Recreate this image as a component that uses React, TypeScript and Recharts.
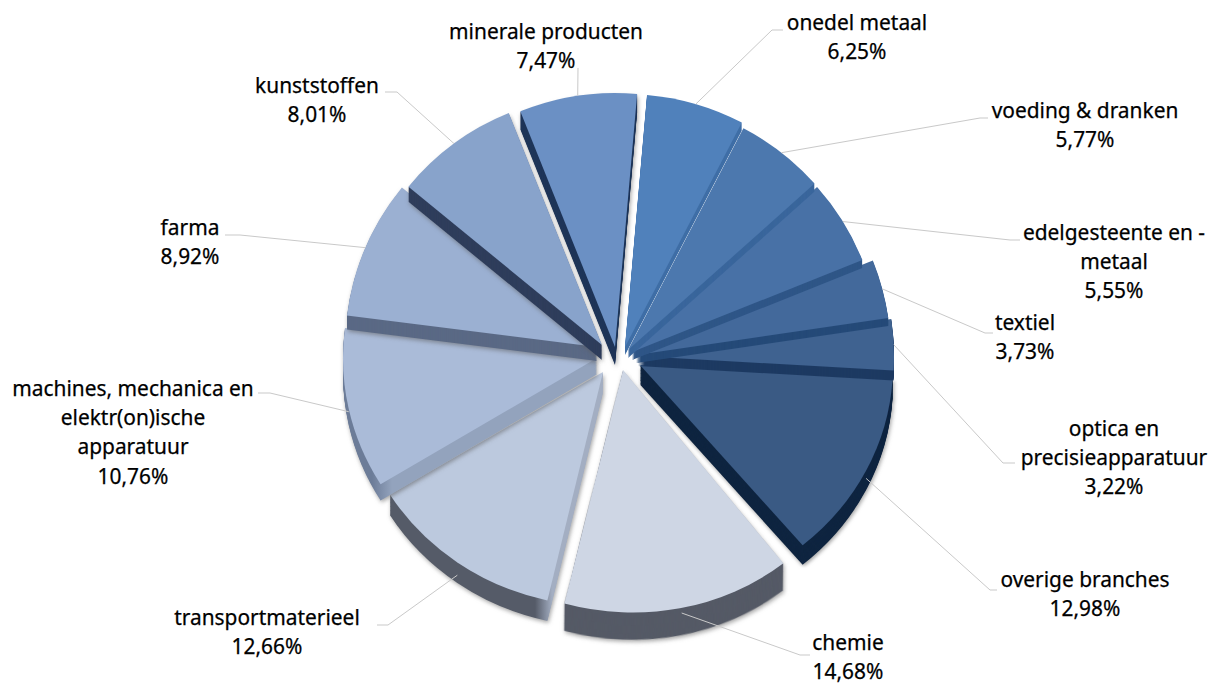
import React from 'react';
import { PieChart, Pie, Sector } from 'recharts';

const categories = ['onedel metaal', 'voeding & dranken', 'edelgesteente en - metaal', 'textiel', 'optica en precisieapparatuur', 'overige branches', 'chemie', 'transportmaterieel', 'machines, mechanica en elektr(on)ische apparatuur', 'farma', 'kunststoffen', 'minerale producten'];
const shares = [6.25, 5.77, 5.55, 3.73, 3.22, 12.98, 14.68, 12.66, 10.76, 8.92, 8.01, 7.47];
const labelLines = [['onedel metaal'], ['voeding & dranken'], ['edelgesteente en -', 'metaal'], ['textiel'], ['optica en', 'precisieapparatuur'], ['overige branches'], ['chemie'], ['transportmaterieel'], ['machines, mechanica en', 'elektr(on)ische', 'apparatuur'], ['farma'], ['kunststoffen'], ['minerale producten']];
const topColors = ['#5081bb', '#4c78ae', '#4871a6', '#43699b', '#3f6290', '#3a5a84', '#ced6e4', '#bcc9de', '#aabbd8', '#9bb0d2', '#88a3cb', '#6b90c4'];
const sideColors = ['#3f6ea6', '#3a669c', '#2f5687', '#254a78', '#1d3a62', '#0f2540', '#555a66', 'url(#transportSide)', 'url(#machinesSide)', '#5a6985', '#2f3e5c', '#1f3558'];

// Drawing layout, separate from the data: offset of each exploded slice from the pie centre, radius, depth, and a perspective matrix [a, b, c, d].
const CX = 620;
const CY = 358;
const explode: [number, number, number, number, number[]][] = [
  [5, -11, 253, 8, [1, 0, 0, 1]],
  [8, -8, 250, 8, [1, 0, 0, 1]],
  [12, -6, 248, 8, [1, 0, 0, 1]],
  [16, -3, 255, 8, [1, 0, 0, 1]],
  [18, -2, 256, 10, [1, 0, 0, 1]],
  [20, 7, 253, 21, [1, 0, 0, 0.93]],
  [3, 12, 250, 28, [1.01, 0.048, -0.01, 0.969]],
  [-17, 14, 250, 22, [1, 0, 0, 0.937]],
  [-23, 0, 254, 17, [1, 0, 0, 0.95]],
  [-23, -11, 252, 14, [1, 0, 0, 1]],
  [-18, -13, 250, 15, [1, 0, 0, 1]],
  [-5, -11, 254, 18, [1, 0, 0, 1]],
];
// Slices are painted bottom to top so each side wall overlaps the slice below it.
const paintOrder = [6, 5, 7, 4, 8, 3, 9, 2, 10, 1, 11, 0];
// [elbow x, elbow y, end x, text centre x, first line centre y]
const labelLayout = [[772, 30, 783, 857, 22], [980, 118, 988, 1085, 110], [1010, 240, 1020, 1114, 232], [985, 333, 993, 1025, 322], [1003, 463, 1015, 1114, 428], [990, 590, 997, 1085, 579], [800, 655, 810, 848, 642], [388, 625, 377, 267, 617], [270, 393, 258, 133, 388], [240, 235, 225, 190, 227], [397, 92, 385, 317, 85], [578, 68, 578, 546, 31]];

const data = categories.map((name, i) => ({ name, value: shares[i], idx: i }));

const RAD = Math.PI / 180;

function Slice(props: any) {
  const i = props.payload?.idx ?? props.idx;
  const [dx, dy, r, depth, m] = explode[i];
  const ax = props.cx + dx;
  const ay = props.cy + dy;
  const common = { innerRadius: 0, outerRadius: r, startAngle: props.startAngle, endAngle: props.endAngle, stroke: 'none' };
  const layers = [];
  for (let d = depth; d >= 1; d--) {
    layers.push(<Sector key={d} cx={ax} cy={ay + d} fill={sideColors[i]} {...common} />);
  }
  return (
    <g transform={`translate(${ax} ${ay}) matrix(${m.join(' ')} 0 0) translate(${-ax} ${-ay})`}>
      <defs>
        <linearGradient id="transportSide" gradientUnits="userSpaceOnUse" x1="535" y1="0" x2="552" y2="0">
          <stop offset="0" stopColor="#555b68" />
          <stop offset="1" stopColor="#a3aec2" />
        </linearGradient>
        <linearGradient id="machinesSide" gradientUnits="userSpaceOnUse" x1="372" y1="0" x2="392" y2="0">
          <stop offset="0" stopColor="#6c7c98" />
          <stop offset="1" stopColor="#93a3bd" />
        </linearGradient>
      </defs>
      <g style={i < 5 ? undefined : { filter: 'drop-shadow(1px 2px 2px rgba(90,90,90,0.55))' }}>{layers}</g>
      <Sector cx={ax} cy={ay} fill={topColors[i]} {...common} />
    </g>
  );
}

function SliceLabel(props: any) {
  const i = props.payload?.idx ?? props.index;
  const [dx, dy, r] = explode[i];
  const [ex, ey, endX, tx, ty] = labelLayout[i];
  const sx = props.cx + dx + r * Math.cos(props.midAngle * RAD);
  const sy = props.cy + dy - r * Math.sin(props.midAngle * RAD);
  const lines = [...labelLines[i], shares[i].toFixed(2).replace('.', ',') + '%'];
  return (
    <g>
      <polyline points={`${sx},${sy} ${ex},${ey} ${endX},${ey}`} fill="none" stroke="#c9c9c9" strokeWidth={1} />
      {lines.map((t, k) => (
        <text key={k} x={tx} y={ty + k * 29.2} textAnchor="middle" dominantBaseline="central" fontFamily="'Noto Sans', sans-serif" fontSize={20.9} stroke="#000" strokeWidth={0.25} fill="#000">{t}</text>
      ))}
    </g>
  );
}

const pieBase = { data, dataKey: 'value', nameKey: 'name', cx: CX, cy: CY, innerRadius: 0, outerRadius: 250, startAngle: 85, endAngle: -275, stroke: 'none', isAnimationActive: false, labelLine: false };

export default function App() {
  return (
    <div style={{ position: 'absolute', left: 0, top: 0, width: 1209, height: 686 }}>
      <PieChart width={1209} height={686} margin={{ top: 0, right: 0, bottom: 0, left: 0 }}>
        {paintOrder.map((idx) => (
          <Pie key={idx} {...pieBase} label={false} shape={(p: any) => (p.payload?.idx === idx ? <Slice {...p} /> : <g />)} />
        ))}
        <Pie key="labels" {...pieBase} label={SliceLabel} shape={() => <g />} />
      </PieChart>
    </div>
  );
}
